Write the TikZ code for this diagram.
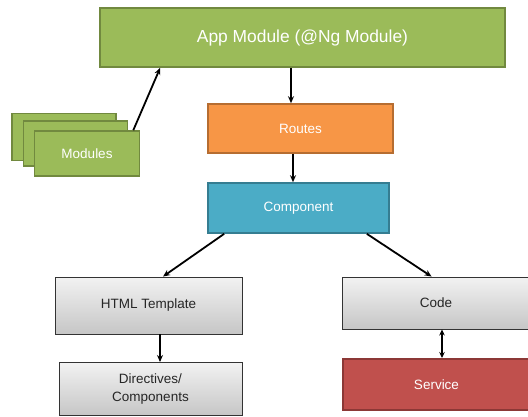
\documentclass[tikz,border=0pt]{standalone}
\usepackage{fontspec}
\setmainfont{Liberation Sans}
\usetikzlibrary{arrows.meta,calc}

\definecolor{appgreen}{HTML}{9BBB59}
\definecolor{appgreenline}{HTML}{71893F}
\definecolor{routeorange}{HTML}{F79646}
\definecolor{routeorangeline}{HTML}{B66D31}
\definecolor{compblue}{HTML}{4BACC6}
\definecolor{compblueline}{HTML}{357D91}
\definecolor{servred}{HTML}{C0504D}
\definecolor{servredline}{HTML}{8C3836}
\definecolor{greytop}{HTML}{F2F2F2}
\definecolor{greybot}{HTML}{C6C6C6}
\definecolor{greytext}{HTML}{262626}

\tikzset{
  box/.style={rectangle, inner sep=2pt, align=center, font=\fontsize{13.5}{18.5}\selectfont},
  greenbox/.style={box, fill=appgreen, draw=appgreenline, line width=1.6pt, text=white},
  orangebox/.style={box, fill=routeorange, draw=routeorangeline, line width=1.6pt, text=white},
  bluebox/.style={box, fill=compblue, draw=compblueline, line width=1.6pt, text=white},
  redbox/.style={box, fill=servred, draw=servredline, line width=1.6pt, text=white},
  greybox/.style={box, top color=greytop, bottom color=greybot, draw=black!80, line width=0.9pt, text=greytext},
  arr/.style={-{Stealth[length=7pt,width=6pt]}, line width=1.8pt, black},
  biarr/.style={{Stealth[length=6pt,width=5.5pt]}-{Stealth[length=6pt,width=5.5pt]}, line width=1.6pt, black}
}

\begin{document}
\begin{tikzpicture}[x=1pt,y=-1pt]
  \useasboundingbox (0,0) rectangle (528,416);
  \clip (0,0) rectangle (528,416);

  % top-level module
  \node[greenbox, minimum width=405pt, minimum height=59pt, font=\fontsize{17.4}{20}\selectfont]
    (app) at (302.5,37.5) {App Module (@Ng Module)};

  % stack of feature modules
  \node[greenbox, minimum width=104pt, minimum height=47pt] (mod1) at (64,137) {};
  \node[greenbox, minimum width=104pt, minimum height=45pt] (mod2) at (75.5,143.5) {};
  \node[greenbox, minimum width=105pt, minimum height=45pt] (mod3) at (87,153.5) {Modules};

  % routing and component
  \node[orangebox, minimum width=185pt, minimum height=49pt] (routes) at (300.5,128.5) {Routes};
  \node[bluebox, minimum width=181pt, minimum height=50pt] (comp) at (298.5,208) {Component};

  % template side
  \node[greybox, minimum width=187pt, minimum height=57pt] (html) at (148.5,305.5) {HTML Template};
  \node[greybox, minimum width=183pt, minimum height=53pt, anchor=north] (dir) at (150.5,362)
    {Directives/\\Components};

  % code side
  \node[greybox, minimum width=188pt, minimum height=52pt] (code) at (436,303) {Code};
  \node[redbox, minimum width=187pt, minimum height=51pt, anchor=north] (serv) at (436.5,358) {Service};

  % connectors
  \draw[arr] ($(mod3.north east)+(-7,0)$) -- ($(app.south west)+(61,0)$);
  \draw[arr] ($(app.south)+(-11.5,0)$) -- ($(routes.north)+(-9.5,0)$);
  \draw[arr] ($(routes.south)+(-7.5,0)$) -- ($(comp.north)+(-5.5,0)$);
  \draw[arr] ($(comp.south west)+(17,0)$) -- ($(html.north)+(14.5,0)$);
  \draw[arr] ($(comp.south east)+(-23,0)$) -- ($(code.north west)+(90,0)$);
  \draw[arr] ($(html.south)+(11.5,0)$) -- ($(dir.north)+(9.5,0)$);
  \draw[biarr] ($(code.south)+(6,0)$) -- ($(serv.north)+(5.5,0)$);
\end{tikzpicture}
\end{document}
